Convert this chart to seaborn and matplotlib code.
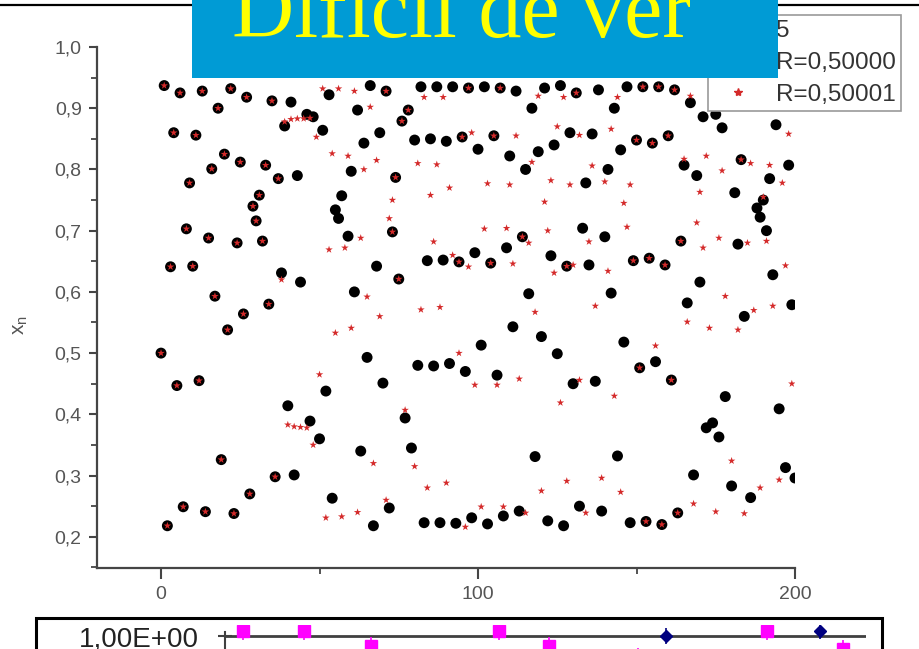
import numpy as np
import pandas as pd
import matplotlib
matplotlib.use("Agg")
import matplotlib.pyplot as plt
from matplotlib.patches import Rectangle
from matplotlib.lines import Line2D
import seaborn as sns

# ---------------- data ----------------
# iterations where both series coincide
n_shared = list(range(38))
x_shared = [0.500, 0.937, 0.218, 0.641, 0.860, 0.447, 0.925, 0.249, 0.703, 0.778,
            0.642, 0.856, 0.455, 0.928, 0.241, 0.688, 0.801, 0.593, 0.900, 0.326,
            0.825, 0.538, 0.932, 0.238, 0.680, 0.812, 0.564, 0.918, 0.270, 0.740,
            0.716, 0.758, 0.683, 0.807, 0.580, 0.912, 0.298, 0.785]

# R = 0,50000 (black dots) after divergence
n_r50000 = [38, 39, 40, 41, 42, 43, 44, 46, 47, 48, 50, 51, 52, 53, 54, 55, 56, 57, 59, 60,
            61, 62, 63, 64, 65, 66, 67, 68, 69, 70, 71, 72, 73, 74, 75, 76, 77, 78, 79, 80,
            81, 82, 83, 84, 85, 86, 87, 88, 89, 90, 91, 92, 93, 94, 95, 96, 97, 98, 99, 100,
            101, 102, 103, 104, 105, 106, 107, 108, 109, 110, 111, 112, 113, 114, 115, 116, 117, 118, 119, 120,
            121, 122, 123, 124, 125, 126, 127, 128, 129, 130, 131, 132, 133, 134, 135, 136, 137, 138, 139, 140,
            141, 142, 143, 144, 145, 146, 147, 148, 149, 150, 151, 152, 153, 154, 155, 156, 157, 158, 159, 160,
            161, 162, 163, 164, 165, 166, 167, 168, 169, 170, 171, 172, 174, 175, 176, 177, 178, 180, 181, 182,
            183, 184, 186, 188, 189, 190, 191, 192, 193, 194, 195, 197, 198, 199, 200]
x_r50000 = [0.631, 0.871, 0.414, 0.910, 0.301, 0.790, 0.616, 0.890, 0.389, 0.886, 0.360, 0.864, 0.438, 0.922, 0.263, 0.734, 0.720, 0.757, 0.691, 0.797,
            0.600, 0.897, 0.340, 0.843, 0.493, 0.937, 0.218, 0.642, 0.860, 0.451, 0.928, 0.247, 0.698, 0.787, 0.621, 0.879, 0.394, 0.897, 0.345, 0.848,
            0.480, 0.935, 0.223, 0.651, 0.850, 0.479, 0.935, 0.223, 0.652, 0.846, 0.483, 0.935, 0.222, 0.649, 0.853, 0.470, 0.933, 0.231, 0.664, 0.833,
            0.513, 0.935, 0.221, 0.647, 0.855, 0.464, 0.933, 0.234, 0.672, 0.822, 0.543, 0.928, 0.242, 0.690, 0.800, 0.597, 0.900, 0.331, 0.829, 0.527,
            0.933, 0.226, 0.659, 0.840, 0.499, 0.937, 0.218, 0.642, 0.860, 0.450, 0.925, 0.250, 0.704, 0.778, 0.644, 0.858, 0.454, 0.930, 0.242, 0.690,
            0.800, 0.598, 0.900, 0.332, 0.832, 0.518, 0.935, 0.223, 0.651, 0.848, 0.476, 0.935, 0.225, 0.655, 0.843, 0.486, 0.935, 0.220, 0.644, 0.855,
            0.456, 0.930, 0.239, 0.683, 0.807, 0.582, 0.909, 0.301, 0.790, 0.616, 0.886, 0.378, 0.386, 0.890, 0.363, 0.868, 0.429, 0.283, 0.762, 0.678,
            0.816, 0.560, 0.264, 0.737, 0.722, 0.750, 0.700, 0.785, 0.628, 0.873, 0.409, 0.313, 0.807, 0.579, 0.296]

# R = 0,50001 (red stars) after divergence
n_r50001 = [38, 39, 40, 41, 42, 43, 44, 45, 46, 47, 48, 49, 50, 51, 52, 53, 54, 55, 56, 57,
            58, 59, 60, 61, 62, 63, 64, 65, 66, 67, 68, 69, 71, 71, 72, 73, 73, 74, 75, 76,
            77, 78, 80, 81, 82, 83, 84, 85, 86, 87, 88, 89, 90, 91, 92, 94, 94, 95, 96, 97,
            97, 98, 99, 101, 102, 103, 104, 105, 106, 107, 108, 109, 110, 111, 112, 113, 114, 115, 116, 117,
            118, 119, 120, 121, 122, 123, 124, 125, 126, 127, 128, 128, 129, 130, 131, 132, 132, 134, 135, 136,
            137, 139, 140, 141, 142, 143, 144, 145, 146, 147, 148, 149, 150, 151, 152, 153, 154, 155, 156, 157,
            158, 159, 160, 161, 162, 163, 164, 165, 166, 167, 168, 169, 170, 171, 172, 173, 175, 176, 177, 178,
            180, 182, 183, 184, 185, 186, 187, 189, 190, 191, 192, 193, 195, 196, 197, 198, 199]
x_r50001 = [0.620, 0.878, 0.383, 0.882, 0.380, 0.883, 0.379, 0.883, 0.378, 0.884, 0.350, 0.853, 0.465, 0.932, 0.231, 0.669, 0.826, 0.533, 0.932, 0.233,
            0.672, 0.822, 0.541, 0.928, 0.240, 0.688, 0.800, 0.592, 0.902, 0.320, 0.815, 0.560, 0.928, 0.260, 0.720, 0.750, 0.698, 0.787, 0.621, 0.879,
            0.407, 0.897, 0.315, 0.810, 0.571, 0.918, 0.280, 0.758, 0.682, 0.808, 0.575, 0.918, 0.288, 0.770, 0.660, 0.649, 0.500, 0.853, 0.216, 0.933,
            0.641, 0.860, 0.448, 0.249, 0.703, 0.777, 0.647, 0.855, 0.448, 0.933, 0.249, 0.704, 0.775, 0.646, 0.855, 0.458, 0.690, 0.239, 0.680, 0.812,
            0.567, 0.920, 0.275, 0.747, 0.700, 0.782, 0.631, 0.870, 0.419, 0.918, 0.291, 0.642, 0.775, 0.644, 0.925, 0.856, 0.456, 0.239, 0.682, 0.806,
            0.577, 0.296, 0.780, 0.634, 0.866, 0.430, 0.918, 0.273, 0.745, 0.706, 0.775, 0.651, 0.848, 0.476, 0.935, 0.225, 0.655, 0.843, 0.512, 0.935,
            0.220, 0.644, 0.855, 0.456, 0.930, 0.239, 0.683, 0.817, 0.551, 0.920, 0.254, 0.713, 0.763, 0.672, 0.822, 0.541, 0.241, 0.688, 0.798, 0.593,
            0.324, 0.538, 0.816, 0.238, 0.680, 0.810, 0.570, 0.280, 0.755, 0.683, 0.807, 0.577, 0.293, 0.778, 0.643, 0.858, 0.450]

x_ticks = [0, 100, 200]
x_tick_labels = ["0", "100", "200"]
x_minor = [50, 150]
y_ticks = [0.2, 0.3, 0.4, 0.5, 0.6, 0.7, 0.8, 0.9, 1.0]
y_tick_labels = ["0,2", "0,3", "0,4", "0,5", "0,6", "0,7", "0,8", "0,9", "1,0"]
y_minor = [0.15, 0.25, 0.35, 0.45, 0.55, 0.65, 0.75, 0.85, 0.95]
legend_labels = ["5", "R=0,50000", "R=0,50001"]
banner_text = "Difícil de ver"

# partially visible chart at the bottom
pink_pos = [2.8, 12.3, 22.8, 42.7, 50.5, 64.4, 84.5, 96.4]
pink_val = [1.04, 1.04, 0.92, 1.04, 0.92, 0.84, 1.04, 0.90]
navy_pos = [68.8, 92.8]
navy_val = [1.00, 1.04]
bottom_tick_label = "1,00E+00"

# ---------------- figure ----------------
sns.set_style("ticks")
plt.rcParams['font.family'] = ['Liberation Sans', 'DejaVu Sans']

W, H = 919, 649
fig = plt.figure(figsize=(W / 100, H / 100), dpi=100)
fig.patch.set_facecolor("white")

def fx(px):
    return px / W

def fy(py):
    return 1 - py / H

ax = fig.add_axes([fx(97), fy(568), fx(795) - fx(97), fy(47) - fy(568)])
df_a = pd.DataFrame({"n": n_shared + n_r50000, "x": x_shared + x_r50000})
df_b = pd.DataFrame({"n": n_shared + n_r50001, "x": x_shared + x_r50001})
sns.scatterplot(data=df_a, x="n", y="x", ax=ax, color="black", s=62,
                edgecolor="none", zorder=3, legend=False)
sns.scatterplot(data=df_b, x="n", y="x", ax=ax, color="#d42a2a", marker="*", s=32,
                edgecolor="none", zorder=4, legend=False)

ax.set_xlim(-20.2, 200)
ax.set_ylim(0.149, 1.0)
ax.set_xticks(x_ticks)
ax.set_xticklabels(x_tick_labels)
ax.set_xticks(x_minor, minor=True)
ax.set_yticks(y_ticks)
ax.set_yticklabels(y_tick_labels)
ax.set_yticks(y_minor, minor=True)
spine_c = "#454545"
for s in ["top", "right"]:
    ax.spines[s].set_visible(False)
for s in ["left", "bottom"]:
    ax.spines[s].set_color(spine_c)
    ax.spines[s].set_linewidth(1.6)
ax.tick_params(axis="both", which="major", color=spine_c, width=1.5,
               labelsize=14, labelcolor="#555555")
ax.tick_params(axis="x", which="major", length=8, pad=5)
ax.tick_params(axis="y", which="major", length=6, pad=5)
ax.tick_params(axis="both", which="minor", color=spine_c, width=1.3, length=4)
ax.set_xlabel("")
ax.set_ylabel(r"$\mathregular{x_n}$", fontsize=15, color="#555555")
ax.yaxis.set_label_coords((30 - 97) / (795 - 97), (568 - 325) / (568 - 47))

handles = [
    Line2D([], [], linestyle="none", marker=None),
    Line2D([], [], linestyle="none", marker="o", color="black", markersize=8),
    Line2D([], [], linestyle="none", marker="*", color="#d42a2a", markersize=6),
]
leg = ax.legend(handles, legend_labels, loc="upper left",
                bbox_to_anchor=(fx(708), fy(15)), bbox_transform=fig.transFigure,
                borderaxespad=0, fontsize=17.5, frameon=True, fancybox=False,
                framealpha=1, edgecolor="#9a9a9a", handlelength=2.09,
                handletextpad=0.52, borderpad=0.2, labelspacing=0.41)
leg.get_frame().set_linewidth(1.2)
for t in leg.get_texts():
    t.set_color("#333333")

# thin slide line at the very top
fig.add_artist(Line2D([0, 1], [fy(5), fy(5)], transform=fig.transFigure,
                      color="black", lw=1.6, zorder=5))

# blue banner with yellow text
fig.add_artist(Rectangle((fx(192), fy(78)), fx(778) - fx(192), 78 / H,
                         transform=fig.transFigure, facecolor="#009BD5",
                         edgecolor="none", zorder=10))
fig.text(fx(232), fy(37), banner_text, fontsize=62, family=["Liberation Serif", "DejaVu Serif"],
         color="#FFFF00", ha="left", va="baseline", zorder=11)

# bottom partially visible chart
fig.add_artist(Rectangle((fx(36), fy(700)), fx(882) - fx(36), (700 - 618) / H,
                         transform=fig.transFigure, facecolor="white",
                         edgecolor="black", lw=2.2, zorder=6))
ax2 = fig.add_axes([fx(225), fy(700), fx(866) - fx(225), 75 / H])
ax2.set_zorder(7)
ax2.patch.set_alpha(0)
ax2.set_xlim(0, 100)
ax2.set_ylim(0.5, 1.086)
ax2.axhline(1.0, color="#404040", lw=2, zorder=1)
ax2.errorbar(pink_pos, pink_val, yerr=0.07, fmt="s", color="#FF00FF",
             markersize=8, elinewidth=1.2, capsize=0, zorder=3)
ax2.errorbar(navy_pos, navy_val, yerr=0.06, fmt="D", color="#000080",
             markersize=6, elinewidth=1.2, capsize=0, zorder=4)
for s in ["top", "right", "bottom"]:
    ax2.spines[s].set_visible(False)
ax2.spines["left"].set_color("#404040")
ax2.spines["left"].set_linewidth(1.5)
ax2.spines["left"].set_bounds(0.5, 1.03)
ax2.set_xticks([])
ax2.set_yticks([1.0])
ax2.set_yticklabels([bottom_tick_label])
ax2.tick_params(axis="y", direction="inout", length=10, width=1.5, color="#404040",
                labelsize=20, labelcolor="#222222", pad=14)

fig.savefig("out.png", dpi=100)
